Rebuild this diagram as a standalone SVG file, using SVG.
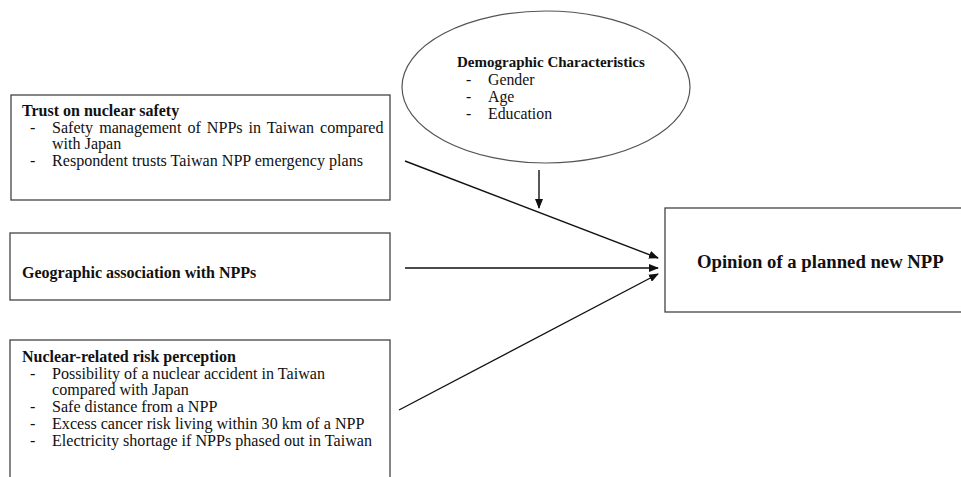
<svg xmlns="http://www.w3.org/2000/svg" width="961" height="477" viewBox="0 0 961 477">
<style>
.box{fill:#fff;stroke:#444;stroke-width:1.3}
.t{font-family:"Liberation Serif","Times New Roman",serif;font-size:16.1px;fill:#111}
.b{font-weight:bold;font-size:16px}
.e{font-size:15px}
.er{font-size:15.8px}
.big{font-size:18.7px}
.con{stroke:#111;stroke-width:1.4;fill:none;marker-end:url(#ah)}
</style>
<defs>
<marker id="ah" markerWidth="10" markerHeight="8" refX="9" refY="4" orient="auto" markerUnits="userSpaceOnUse">
<path d="M0,0 L10,4 L0,8 z" fill="#111"/>
</marker>
</defs>
<rect width="961" height="477" fill="#fff"/>
<g id="demographics">
<ellipse cx="546" cy="87" rx="144" ry="76" fill="#fff" stroke="#555" stroke-width="1.2"/>
<text class="t b e" x="457" y="67">Demographic Characteristics</text>
<text class="t er" x="466" y="85">-</text><text class="t er" x="488" y="85">Gender</text>
<text class="t er" x="466" y="102">-</text><text class="t er" x="488" y="102">Age</text>
<text class="t er" x="466" y="119">-</text><text class="t er" x="488" y="119">Education</text>
</g>
<g id="trust">
<rect class="box" x="11" y="95" width="379" height="105"/>
<text class="t b" x="22" y="116">Trust on nuclear safety</text>
<text class="t" x="30" y="133">-</text><text class="t" x="52" y="133" word-spacing="2">Safety management of NPPs in Taiwan compared</text>
<text class="t" x="52" y="149">with Japan</text>
<text class="t" x="30" y="166">-</text><text class="t" x="52" y="166">Respondent trusts Taiwan NPP emergency plans</text>
</g>
<g id="geographic">
<rect class="box" x="10" y="233" width="380" height="67"/>
<text class="t b" x="22" y="278">Geographic association with NPPs</text>
</g>
<g id="risk">
<rect class="box" x="10" y="340" width="380" height="150"/>
<text class="t b" x="22" y="362">Nuclear-related risk perception</text>
<text class="t" x="30" y="379">-</text><text class="t" x="52" y="379">Possibility of a nuclear accident in Taiwan</text>
<text class="t" x="52" y="395">compared with Japan</text>
<text class="t" x="30" y="412">-</text><text class="t" x="52" y="412">Safe distance from a NPP</text>
<text class="t" x="30" y="429">-</text><text class="t" x="52" y="429">Excess cancer risk living within 30 km of a NPP</text>
<text class="t" x="30" y="446">-</text><text class="t" x="52" y="446">Electricity shortage if NPPs phased out in Taiwan</text>
</g>
<g id="opinion">
<rect class="box" x="665" y="208" width="300" height="104"/>
<text class="t b big" x="697" y="268">Opinion of a planned new NPP</text>
</g>
<g id="connectors">
<line class="con" x1="405" y1="161" x2="658" y2="258"/>
<line class="con" x1="405" y1="268" x2="658" y2="268"/>
<line class="con" x1="399" y1="410" x2="658" y2="274"/>
<line class="con" x1="539" y1="170" x2="539" y2="208"/>
</g>
</svg>
